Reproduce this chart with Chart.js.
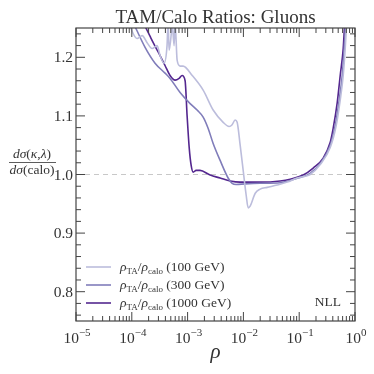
<!DOCTYPE html>
<html>
<head>
<meta charset="utf-8">
<script src="https://cdn.jsdelivr.net/npm/chart.js@4"></script>
<style>
  html, body { margin: 0; padding: 0; background: #fff; }
  #wrap { width: 374px; height: 374px; }
</style>
</head>
<body>
<div id="wrap"><canvas id="grafico" width="374" height="374"></canvas></div>
<script>
// datos
const rho100 = [8.93e-5, 1.05e-4, 1.24e-4, 1.53e-4, 1.88e-4, 2.31e-4, 2.84e-4, 3.21e-4, 3.78e-4, 4.28e-4, 4.47e-4, 4.66e-4, 5.06e-4, 5.27e-4, 5.73e-4, 5.97e-4, 6.49e-4, 7.33e-4, 8.30e-4, 1.21e-3, 1.90e-3, 2.87e-3, 4.34e-3, 5.55e-3, 6.28e-3, 7.11e-3, 7.73e-3, 8.75e-3, 9.91e-3, 1.12e-2, 1.22e-2, 1.32e-2, 1.63e-2, 2.00e-2, 2.67e-2, 4.03e-2, 6.10e-2, 9.20e-2, 0.128, 0.157, 0.238, 0.360, 0.461, 0.543, 0.615, 0.668, 0.711];
const ratio100 = [1.26, 1.241, 1.232, 1.237, 1.225, 1.215, 1.220, 1.203, 1.190, 1.220, 1.26, 1.212, 1.237, 1.26, 1.220, 1.26, 1.195, 1.185, 1.185, 1.169, 1.144, 1.110, 1.089, 1.082, 1.085, 1.093, 1.089, 1.050, 1.007, 0.965, 0.943, 0.946, 0.968, 0.975, 0.978, 0.982, 0.987, 0.994, 0.997, 1.000, 1.017, 1.046, 1.084, 1.127, 1.169, 1.215, 1.26];

const rho300 = [1.05e-4, 1.73e-4, 2.61e-4, 3.94e-4, 4.85e-4, 7.33e-4, 1.11e-3, 1.48e-3, 1.90e-3, 2.33e-3, 2.87e-3, 3.83e-3, 5.32e-3, 6.28e-3, 7.41e-3, 1.07e-2, 2.00e-2, 4.56e-2, 0.104, 0.157, 0.238, 0.360, 0.443, 0.521, 0.590, 0.641, 0.683];
const ratio300 = [1.26, 1.217, 1.190, 1.173, 1.164, 1.140, 1.121, 1.110, 1.098, 1.079, 1.053, 1.024, 0.994, 0.985, 0.983, 0.984, 0.985, 0.986, 0.995, 1.002, 1.019, 1.050, 1.084, 1.127, 1.169, 1.215, 1.26];

const rho1000 = [1.59e-4, 2.12e-4, 2.61e-4, 3.21e-4, 3.94e-4, 4.85e-4, 5.97e-4, 7.05e-4, 7.96e-4, 9.02e-4, 9.80e-4, 1.07e-3, 1.16e-3, 1.26e-3, 1.42e-3, 1.67e-3, 2.54e-3, 3.83e-3, 5.78e-3, 8.75e-3, 2.00e-2, 4.56e-2, 6.90e-2, 0.118, 0.178, 0.269, 0.360, 0.407, 0.481, 0.543, 0.615, 0.655];
const ratio1000 = [1.26, 1.236, 1.219, 1.203, 1.186, 1.169, 1.161, 1.164, 1.169, 1.160, 1.100, 1.045, 1.015, 1.004, 1.007, 1.007, 0.999, 0.994, 0.989, 0.987, 0.987, 0.989, 0.992, 0.999, 1.011, 1.028, 1.055, 1.079, 1.123, 1.169, 1.215, 1.26];

const energias = ["100 GeV", "300 GeV", "1000 GeV"];
const colores = ["#bcbddc", "#807dba", "#54278f"];
const xDecadas = [-5, -4, -3, -2, -1, 0];
const yTicks = [0.8, 0.9, 1.0, 1.1, 1.2];

const SERIF = "'Liberation Serif', 'DejaVu Serif', serif";
const TEXTO = "#333";

function puntos(xs, ys) {
  return xs.map((x, i) => ({ x: x, y: ys[i] }));
}

function serie(xs, ys, color, nombre) {
  return {
    label: nombre,
    data: puntos(xs, ys),
    borderColor: color,
    borderWidth: 1.6,
    pointRadius: 0,
    cubicInterpolationMode: "monotone",
    clip: 0
  };
}

// dibuja textos con partes (cursiva, subindice, superindice)
function textoPartes(ctx, partes, x, y, align) {
  let total = 0;
  partes.forEach(p => {
    ctx.font = p.f;
    total += ctx.measureText(p.t).width;
  });
  let cx = align === "center" ? x - total / 2 : (align === "right" ? x - total : x);
  partes.forEach(p => {
    ctx.font = p.f;
    ctx.fillText(p.t, cx, y + (p.dy || 0));
    cx += ctx.measureText(p.t).width;
  });
  return total;
}

const decoracion = {
  id: "decoracion",
  afterDatasetsDraw(chart) {
    const ctx = chart.ctx;
    const a = chart.chartArea;
    const sx = chart.scales.x;
    const sy = chart.scales.y;
    ctx.save();
    ctx.strokeStyle = "#444";
    ctx.lineWidth = 1.2;
    ctx.strokeRect(a.left, a.top, a.right - a.left, a.bottom - a.top);

    // marcas del eje x
    ctx.lineWidth = 1;
    xDecadas.forEach(d => {
      const px = sx.getPixelForValue(Math.pow(10, d));
      ctx.beginPath();
      ctx.moveTo(px, a.bottom); ctx.lineTo(px, a.bottom - 9);
      ctx.moveTo(px, a.top); ctx.lineTo(px, a.top + 9);
      ctx.stroke();
      if (d < 0) {
        for (let k = 2; k <= 9; k++) {
          const pm = sx.getPixelForValue(k * Math.pow(10, d));
          ctx.beginPath();
          ctx.moveTo(pm, a.bottom); ctx.lineTo(pm, a.bottom - 5);
          ctx.moveTo(pm, a.top); ctx.lineTo(pm, a.top + 5);
          ctx.stroke();
        }
      }
    });
    // marcas del eje y
    for (let i = 38; i <= 62; i++) {
      const v = i / 50;
      const py = sy.getPixelForValue(v);
      const largo = (i % 5 === 0) ? 9 : 5;
      ctx.beginPath();
      ctx.moveTo(a.left, py); ctx.lineTo(a.left + largo, py);
      ctx.moveTo(a.right, py); ctx.lineTo(a.right - largo, py);
      ctx.stroke();
    }

    // etiquetas
    ctx.fillStyle = TEXTO;
    ctx.textBaseline = "alphabetic";
    const fNum = "15.5px " + SERIF;
    const fSup = "11px " + SERIF;
    xDecadas.forEach(d => {
      const px = sx.getPixelForValue(Math.pow(10, d));
      const exp = d < 0 ? "\u2212" + Math.abs(d) : String(d);
      textoPartes(ctx, [{ t: "10", f: fNum }, { t: exp, f: fSup, dy: -7 }], px + 1, 343, "center");
    });
    ctx.textBaseline = "middle";
    yTicks.forEach(v => {
      const py = sy.getPixelForValue(v);
      ctx.font = fNum;
      ctx.textAlign = "right";
      ctx.fillText(v.toFixed(1), a.left - 3, py + 1);
    });
    ctx.textAlign = "left";

    // titulo
    ctx.textBaseline = "alphabetic";
    ctx.font = "19px " + SERIF;
    ctx.textAlign = "center";
    ctx.fillText("TAM/Calo Ratios: Gluons", (a.left + a.right) / 2, 23);

    // etiqueta x
    ctx.font = "italic 21px " + SERIF;
    ctx.fillText("\u03c1", (a.left + a.right) / 2, 358);
    ctx.textAlign = "left";

    // etiqueta y (fraccion)
    const fI = "italic 13.5px " + SERIF;
    const fR = "13.5px " + SERIF;
    const cxF = 32;
    textoPartes(ctx, [{ t: "d\u03c3", f: fI }, { t: "(", f: fR }, { t: "\u03ba", f: fI }, { t: ",", f: fR }, { t: "\u03bb", f: fI }, { t: ")", f: fR }], cxF, 158, "center");
    ctx.strokeStyle = TEXTO;
    ctx.lineWidth = 0.8;
    ctx.beginPath();
    ctx.moveTo(9, 162.5); ctx.lineTo(56, 162.5);
    ctx.stroke();
    textoPartes(ctx, [{ t: "d\u03c3", f: fI }, { t: "(calo)", f: fR }], cxF, 174, "center");

    // leyenda
    const fL = "13.5px " + SERIF;
    const fLi = "italic 13.5px " + SERIF;
    const fSub = "9px " + SERIF;
    const legY = [267, 285, 303];
    chart.data.datasets.forEach((ds, i) => {
      if (i >= energias.length) return;
      const y = legY[i];
      ctx.strokeStyle = ds.borderColor;
      ctx.lineWidth = 1.6;
      ctx.beginPath();
      ctx.moveTo(86, y); ctx.lineTo(111, y);
      ctx.stroke();
      ctx.fillStyle = TEXTO;
      textoPartes(ctx, [
        { t: "\u03c1", f: fLi },
        { t: "TA", f: fSub, dy: 3 },
        { t: "/", f: fL },
        { t: "\u03c1", f: fLi },
        { t: "calo", f: fSub, dy: 3 },
        { t: " (" + energias[i] + ")", f: fL }
      ], 120, y + 4, "left");
    });

    // NLL
    ctx.font = "13.5px " + SERIF;
    ctx.textAlign = "right";
    ctx.fillText("NLL", 341, 306);
    ctx.restore();
  }
};

const referencia = {
  label: "ref",
  data: [{ x: 1e-5, y: 1.0 }, { x: 1, y: 1.0 }],
  borderColor: "#c8c8c8",
  borderWidth: 1,
  borderDash: [5, 4],
  pointRadius: 0,
  clip: 0
};

new Chart(document.getElementById("grafico").getContext("2d"), {
  type: "line",
  data: {
    datasets: [
      serie(rho100, ratio100, colores[0], energias[0]),
      serie(rho300, ratio300, colores[1], energias[1]),
      serie(rho1000, ratio1000, colores[2], energias[2]),
      referencia
    ]
  },
  options: {
    responsive: false,
    animation: false,
    parsing: true,
    layout: { padding: { left: 76, right: 19, top: 28, bottom: 53 } },
    plugins: {
      legend: { display: false },
      title: { display: false },
      tooltip: { enabled: false }
    },
    scales: {
      x: { type: "logarithmic", min: 1e-5, max: 1, display: false },
      y: { type: "linear", min: 0.75, max: 1.25, display: false }
    }
  },
  plugins: [decoracion]
});
</script>
</body>
</html>
